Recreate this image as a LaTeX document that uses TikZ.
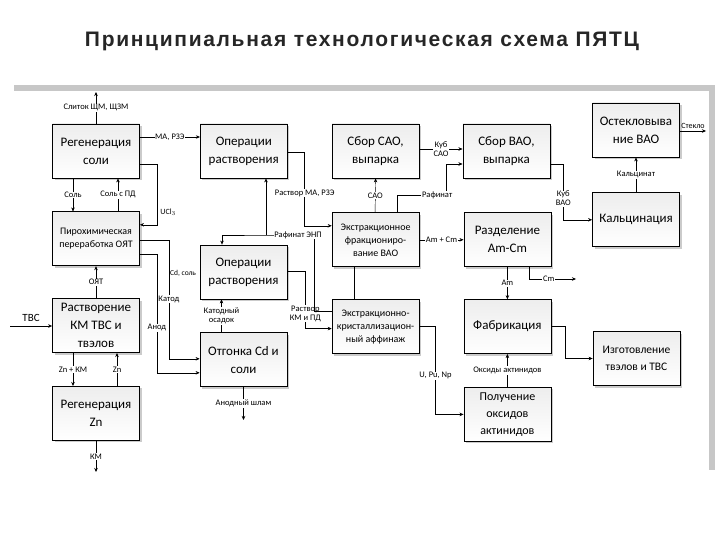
\documentclass[tikz,border=0pt]{standalone}
\usepackage{fontspec}
\setmainfont{Carlito}
\newfontfamily\titlefont[LetterSpace=8]{Liberation Sans}
\usetikzlibrary{positioning,arrows.meta,shadows}

\begin{document}
\begin{tikzpicture}[x=1pt, y=-1pt,
    node distance=40pt,
    box/.style={rectangle, draw=black, line width=0.8pt, top color=gray!14, bottom color=white,
        minimum width=87pt, minimum height=54pt, inner sep=2pt, align=center,
        font=\fontsize{13}{18}\selectfont,
        drop shadow={shadow xshift=2pt, shadow yshift=-2pt, fill=black!40}},
    boxs/.style={box, font=\fontsize{10}{13}\selectfont},
    flow/.style={-{Stealth[length=4pt, width=3.5pt]}, line width=0.45pt},
    tag/.style={fill=white, inner sep=0.6pt, align=center, font=\fontsize{8.5}{9}\selectfont}
]
    % Frame
    \useasboundingbox (0,0) rectangle (720,540);
    \fill[black!22] (14,85) rectangle (715,470);
    \fill[white] (8,91) rectangle (709,474);
    \node[font=\titlefont\bfseries\fontsize{21}{24}\selectfont, text=black!85] (title) at (362,41)
        {Принципиальная технологическая схема ПЯТЦ};

    % Nodes
    \node[box] (regsol) at (96,151) {Регенерация\\соли};
    \node[box, right=60pt of regsol] (rastv1) {Операции\\растворения};
    \node[box, right=44pt of rastv1] (sborsao) {Сбор САО,\\выпарка};
    \node[box, right=43pt of sborsao] (sborvao) {Сбор ВАО,\\выпарка};
    \node[box] (steklo) at (636,130) {Остекловыва\\ние ВАО};
    \node[box, below=35pt of steklo] (calc) {Кальцинация};
    \node[boxs, below=33pt of regsol] (pyro) {Пирохимическая\\переработка ОЯТ};
    \node[box, below=32pt of pyro] (rastvkm) {Растворение\\КМ ТВС и\\твэлов};
    \node[box, below=33pt of rastvkm] (regzn) {Регенерация\\Zn};
    \node[box] (rastv2) at (243.5,272) {Операции\\растворения};
    \node[box, below=33pt of rastv2] (otgon) {Отгонка Cd и\\соли};
    \node[boxs, below=34pt of sborsao] (extrfr) {Экстракционное\\фракциониро-\\вание ВАО};
    \node[box, right=44pt of extrfr] (razd) {Разделение\\Am-Cm};
    \node[boxs, below=32pt of extrfr] (extrkr) {Экстракционно-\\кристаллизацион-\\ный аффинаж};
    \node[box, right=44pt of extrkr] (fabr) {Фабрикация};
    \node[box, below=33pt of fabr, font=\fontsize{12}{17}\selectfont] (oxid) {Получение\\оксидов\\актинидов};
    \node[box, font=\fontsize{11.5}{17}\selectfont] (izgot) at (636.5,358.5) {Изготовление\\твэлов и ТВС};

    % Free ends
    \coordinate (ingot) at (96,92);
    \coordinate (tvsin) at (10,326);
    \coordinate (kmout) at (96,472);
    \coordinate (slime) at (243.5,420);
    \coordinate (cmout) at (576,279);
    \coordinate (glass) at (706,131);
    \coordinate (rafsplit) at (266,235);

    % Left column
    \draw[flow] (regsol.north) -- node[tag]{Слиток ЩМ, ЩЗМ} (ingot);
    \draw[flow] ([yshift=14pt]regsol.east) -- node[tag]{МА, РЗЭ} ([yshift=14pt]rastv1.west);
    \draw[flow] ([yshift=-13pt]regsol.east) -- ++(17,0) |- ([yshift=14pt]pyro.east)
        node[pos=0.4, right, font=\fontsize{8}{9}\selectfont]{UCl$_3$};
    \draw[flow] ([xshift=-23pt]regsol.south) -- node[tag]{Соль} ([xshift=-23pt]pyro.north);
    \draw[flow] ([xshift=22pt]pyro.north) -- node[tag]{Соль с ПД} ([xshift=22pt]regsol.south);
    \draw[flow] (rastvkm.north) -- node[tag]{ОЯТ} (pyro.south);
    \draw[flow] (tvsin) -- node[above=1pt, font=\fontsize{11}{12}\selectfont]{ТВС} (tvsin -| rastvkm.west);
    \draw[flow] ([xshift=-23pt]rastvkm.south) -- node[tag]{Zn + КМ} ([xshift=-23pt]regzn.north);
    \draw[flow] ([xshift=21pt]regzn.north) -- node[tag]{Zn} ([xshift=21pt]rastvkm.south);
    \draw[flow] (regzn.south) -- node[tag]{КМ} (kmout);
    \draw[flow] ([yshift=-1pt]pyro.east) -- ++(29,0) |- ([yshift=1pt]otgon.west)
        node[tag, pos=0.25]{Катод}
        node[right, pos=0.14, inner sep=1pt, font=\fontsize{7.5}{8}\selectfont]{Cd, соль};
    \draw[flow] ([yshift=-15pt]pyro.east) -- ++(17,0) |- ([yshift=-13pt]otgon.west)
        node[tag, pos=0.31]{Анод};

    % Middle column
    \draw[flow] ([xshift=-22pt]otgon.north) -- node[tag]{Катодный\\осадок} ([xshift=-22pt]rastv2.south);
    \draw[flow] (otgon.south) -- node[tag]{Анодный шлам} (slime);
    \draw[flow] ([yshift=-1pt]rastv1.east) -- ++(17,0) |- ([yshift=14pt]extrfr.west)
        node[tag, pos=0.28]{Раствор МА, РЗЭ};
    \draw[flow] ([yshift=1pt]rastv2.east) -- ++(18,0) |- ([yshift=-2pt]extrkr.west)
        node[tag, pos=0.37]{Раствор\\КМ и ПД};
    \draw[flow] ([yshift=15pt]extrkr.west) -- ++(-17,0) |- (rafsplit) -| ([xshift=-21.5pt]rastv2.north);
    \draw[flow] (rafsplit) -- (rafsplit |- rastv1.south);
    \node[tag] (rafenp) at (298,235) {Рафинат ЭНП};
    \draw ([xshift=-21.5pt]extrfr.south) -- ([xshift=-21.5pt]extrkr.north);

    % Right part
    \draw[flow] ([xshift=-0.5pt]extrfr.north) -- node[tag]{САО} (sborsao.south);
    \draw[flow] ([xshift=21.5pt]extrfr.north) |- (446,195) node[tag, pos=0.91]{Рафинат}
        |- ([yshift=-13pt]sborvao.west);
    \draw[flow] ([yshift=2pt]sborsao.east) -- node[tag]{Куб\\САО} ([yshift=2pt]sborvao.west);
    \draw[flow] (extrfr.east) -- node[tag]{Am + Cm} (extrfr.east -| razd.west);
    \draw[flow] (razd.south) -- node[tag]{Am} (razd.south |- fabr.north);
    \draw[flow] ([xshift=21.5pt]razd.south) |- node[tag, pos=0.71]{Cm} (cmout);
    \draw[flow] ([yshift=-13pt]sborvao.east) -- ++(13,0) |- (calc.west)
        node[tag, pos=0.31]{Куб\\ВАО};
    \draw[flow] (calc.north) -- node[tag]{Кальцинат} (steklo.south);
    \draw[flow] ([yshift=-1pt]steklo.east) -- node[above=-1pt, font=\fontsize{8}{9}\selectfont]{Стекло} (glass);
    \draw[flow] (fabr.east) -- ++(14,0) |- (izgot.west);
    \draw[flow] (oxid.north) -- node[tag]{Оксиды актинидов} (fabr.south);
    \draw[flow] (extrkr.east) -- ++(16,0) |- (oxid.west) node[tag, pos=0.28]{U, Pu, Np};
\end{tikzpicture}
\end{document}
